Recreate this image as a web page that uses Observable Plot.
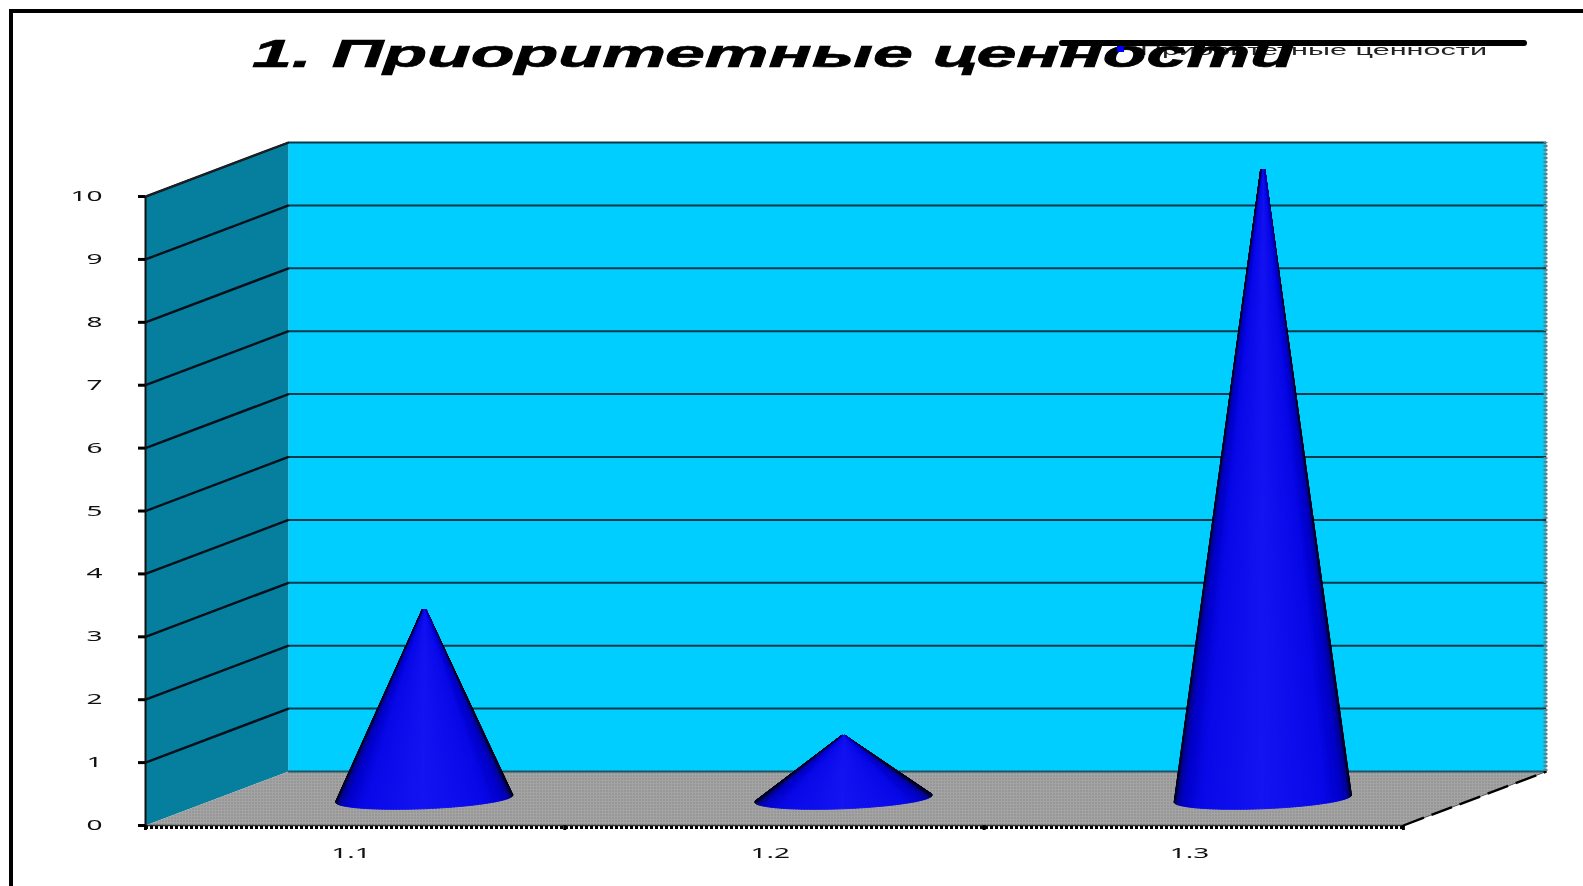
<!DOCTYPE html>
<html lang="ru">
<head>
<meta charset="utf-8">
<title>1. Приоритетные ценности</title>
<script src="https://cdn.jsdelivr.net/npm/d3@7"></script>
<script src="https://cdn.jsdelivr.net/npm/@observablehq/plot@0.6"></script>
<style>
  html, body { margin: 0; padding: 0; background: #fff; }
  #page { position: relative; width: 1583px; height: 886px; overflow: hidden; font-family: "Liberation Sans", Arial, sans-serif; color: #000; filter: blur(0.55px); }
  #frameTop { position: absolute; left: 9px; top: 9px; right: 0; height: 4px; background: #000; }
  #frameLeft { position: absolute; left: 9px; top: 9px; bottom: 0; width: 4px; background: #000; }
  #header { position: relative; height: 130px; }
  #legendText { position: absolute; top: 41px; font-size: 15px; line-height: 17px; white-space: nowrap; transform-origin: 0 50%; color: #222; }
  #title { position: absolute; top: 35px; margin: 0; font-size: 38px; line-height: 38px; font-weight: bold; font-style: italic; white-space: nowrap; transform-origin: 0 50%; -webkit-text-stroke: 0.7px #000; }
  #legendBar { position: absolute; left: 1059px; width: 468px; top: 40px; height: 6px; border-radius: 3px; background: #000; }
  #legendKey { position: absolute; left: 1117px; top: 46px; width: 7px; height: 6px; background: #0000ff; }
  svg { display: block; }
</style>
</head>
<body>
<div id="page">
  <div id="frameTop"></div>
  <div id="frameLeft"></div>
  <div id="header">
    <span id="legendText">Приоритетные ценности</span>
    <h1 id="title">1. Приоритетные ценности</h1>
    <div id="legendBar"></div>
    <div id="legendKey"></div>
  </div>
  <div id="chart"></div>
</div>
<script>
// Chart values
const categories = ["1.1", "1.2", "1.3"];
const values = [3, 1, 10];
const yTicks = [0, 1, 2, 3, 4, 5, 6, 7, 8, 9, 10];

// Oblique 3D box: how far the back of the chart is shifted, in data units
const depthX = 0.3413;
const depthY = 0.859;
const coneRadius = 0.2;
const coneDepth = 0.2;   // radius along the depth axis, as share of the box depth
const coneShift = -0.006;
const coneTip = 0.005;   // the tip of a cone is slightly blunt

const sideFill = "#067f9f";
const backFill = "#00ceff";

const nCat = categories.length;
const yMax = yTicks[yTicks.length - 1];

// Wall and floor polygons
const polygons = [
  {k: "side", fill: sideFill, pts: [[0, 0], [depthX, depthY], [depthX, yMax + depthY], [0, yMax]]},
  {k: "back", fill: backFill, pts: [[depthX, depthY], [nCat + depthX, depthY], [nCat + depthX, yMax + depthY], [depthX, yMax + depthY]]},
  {k: "floor", fill: "url(#dither)", pts: [[0, 0], [nCat, 0], [nCat + depthX, depthY], [depthX, depthY]]}
].flatMap(p => p.pts.map(([x, y]) => ({k: p.k, fill: p.fill, x, y})));

// Cones: a fan of shaded facets from the apex to the base ellipse
const shade = d3.scaleLinear()
  .domain([0, 0.7, 0.9, 0.975, 1])
  .range(["#1414f2", "#0808e8", "#0000c8", "#00008c", "#000018"]);
const nFacets = 180;
const facets = [];
values.forEach((v, c) => {
  const cx = c + 0.5 + depthX / 2 + coneShift;
  const cy = depthY / 2;
  const ext = Math.hypot(coneRadius, coneDepth * depthX);
  const basePoint = t => ({
    x: cx + coneRadius * Math.cos(t) + coneDepth * depthX * Math.sin(t),
    y: cy + coneDepth * depthY * Math.sin(t)
  });
  for (let i = 0; i < nFacets; i++) {
    const a = (i / nFacets) * 2 * Math.PI;
    const b = ((i + 1.4) / nFacets) * 2 * Math.PI;
    const A = basePoint(a), B = basePoint(b);
    const u = Math.abs((A.x + B.x) / 2 - cx) / ext;
    const front = (A.y + B.y) / 2 < cy;
    facets.push({
      id: `${c}-${i}`, front, u, color: shade(Math.min(1, u)),
      pts: [{x: cx + coneTip * Math.cos(a), y: cy + v}, A, B]
    });
  }
});
facets.sort((p, q) => d3.ascending(p.front, q.front) || d3.ascending(p.u, q.u));
const facetPoints = facets.flatMap(f => f.pts.map(p => ({id: f.id, color: f.color, x: p.x, y: p.y})));

const gridRows = yTicks.slice(1);

const svg = Plot.plot({
  width: 1583,
  height: 756,
  marginLeft: 145,
  marginRight: 37,
  marginTop: 12,
  marginBottom: 61,
  x: {domain: [0, nCat + depthX], axis: null},
  y: {domain: [0, yMax + depthY], axis: null},
  color: {type: "identity"},
  style: {background: "transparent", overflow: "visible"},
  marks: [
    () => {
      const ns = "http://www.w3.org/2000/svg";
      const defs = document.createElementNS(ns, "defs");
      defs.innerHTML = `<pattern id="dither" width="3" height="3" patternUnits="userSpaceOnUse">
        <rect width="3" height="3" fill="#a4a4a4"/><rect width="1" height="1" fill="#707070"/></pattern>`;
      return defs;
    },
    Plot.line(polygons, {x: "x", y: "y", z: "k", fill: "fill", stroke: "none"}),
    // back-wall gridlines
    Plot.ruleY(gridRows, {y: d => d + depthY, x1: depthX, x2: nCat + depthX, stroke: "#06394a", strokeWidth: 2}),
    // side-wall gridlines
    Plot.link(gridRows, {x1: 0, y1: d => d, x2: depthX, y2: d => d + depthY, stroke: "#00101a", strokeWidth: 2.4}),
    // floor back edge and outer edges
    Plot.ruleY([depthY], {x1: depthX, x2: nCat + depthX, stroke: "#1f5566", strokeWidth: 2}),
    Plot.link([0], {x1: nCat, y1: 0, x2: nCat + depthX, y2: depthY, stroke: "#555", strokeWidth: 1}),
    Plot.link([0], {x1: nCat, y1: 0, x2: nCat + depthX, y2: depthY, stroke: "#000", strokeWidth: 2.4, strokeDasharray: "22 8"}),
    Plot.link([0], {x1: 0, y1: yMax, x2: depthX, y2: yMax + depthY, stroke: "#222", strokeWidth: 1.5}),
    Plot.ruleX([nCat + depthX], {y1: depthY, y2: yMax + depthY, dx: -1, stroke: "#777", strokeWidth: 4, strokeDasharray: "2 2"}),
    // cones
    Plot.line(facetPoints, {x: "x", y: "y", z: "id", fill: "color", stroke: "color", strokeWidth: 0.8}),
    // front axis lines
    Plot.ruleX([0], {y1: 0, y2: yMax, stroke: "#111", strokeWidth: 2}),
    Plot.ruleY([0], {x1: 0, x2: nCat, stroke: "#333", strokeWidth: 1.5}),
    Plot.ruleY([0], {x1: 0, x2: nCat, dy: 2, stroke: "#000", strokeWidth: 3, strokeDasharray: "3 2"}),
    Plot.axisY({ticks: yTicks, tickSize: 7, tickPadding: 36, strokeWidth: 3, fontSize: 14, className: "stretched", fill: "#111", label: null}),
    Plot.axisX({ticks: d3.range(nCat + 1), tickSize: 5, strokeWidth: 3, tickFormat: () => "", label: null}),
    Plot.axisX({ticks: categories.map((_, i) => i + 0.49), tickSize: 0, tickPadding: 23, fontSize: 14, className: "stretched", fill: "#111", label: null,
      tickFormat: d => categories[Math.floor(d)]})
  ]
});
document.getElementById("chart").appendChild(svg);

// The reference's text is stretched sideways
d3.select(svg).selectAll(".stretched text").attr("transform", function () {
  return `${this.getAttribute("transform") || ""} scale(2,1)`;
});

function fit(id, left, right) {
  const el = document.getElementById(id);
  el.style.left = left + "px";
  el.style.transform = `scaleX(${(right - left) / el.getBoundingClientRect().width})`;
}
fit("title", 252, 1294);
fit("legendText", 1140, 1487);
</script>
</body>
</html>
